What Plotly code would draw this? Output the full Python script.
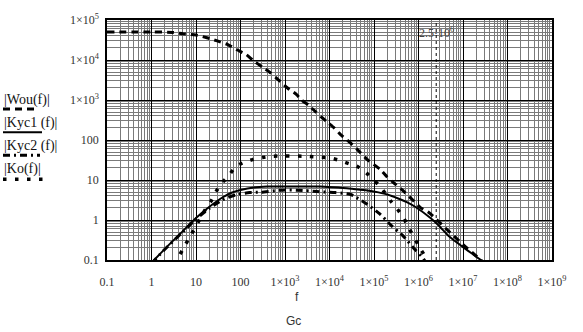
import math
import plotly.graph_objects as go

# ---- data (f in Hz, magnitudes) ----
f_wou = [0.1, 1, 3, 5.2, 10, 17.6, 30, 53, 83, 137, 195, 320, 480, 710, 1140, 1800, 2400,
         3400, 4700, 6400, 9100, 1.3e4, 1.8e4, 2.7e4, 4.1e4, 7.4e4, 1.38e5, 1.95e5, 2.74e5,
         4.23e5, 7.1e5, 1.09e6, 1.68e6, 2.59e6, 4.72e6, 7.93e6, 1.22e7, 1.88e7, 2.52e7, 3.2e7]
wou = [5.0e4, 5.0e4, 4.9e4, 4.5e4, 4.2e4, 3.6e4, 3.0e4, 2.4e4, 1.8e4, 1.35e4, 9.6e3, 6.5e3,
       4.7e3, 3.2e3, 2.0e3, 1.38e3, 980, 740, 527, 383, 275, 196, 134, 92, 60, 31, 18.4, 12.1,
       8.6, 5.75, 3.33, 2.07, 1.56, 1.01, 0.53, 0.31, 0.20, 0.133, 0.1, 0.08]

f_kyc1 = [1, 2, 5, 10, 20, 40, 63, 100, 200, 400, 1000, 3200, 6300, 1.6e4, 3.2e4, 7.1e4,
          1.26e5, 2.0e5, 3.5e5, 5.6e5, 8.9e5, 1.8e6, 2.8e6, 5.0e6, 1.0e7, 2.5e7, 3.2e7]
kyc1 = [0.085, 0.19, 0.52, 1.12, 2.14, 3.7, 4.8, 5.6, 6.5, 6.85, 6.9, 6.9, 6.85, 6.45, 6.0,
        5.5, 4.9, 4.35, 3.45, 2.75, 2.05, 1.15, 0.74, 0.38, 0.21, 0.1, 0.08]

f_kyc2 = [1, 2, 5, 10, 20, 40, 80, 160, 280, 800, 2000, 5200, 1.35e4, 2.9e4, 3.5e4, 6.9e4,
          1.35e5, 2.5e5, 4.6e5, 8.4e5, 1.2e6, 1.35e6, 1.5e6]
kyc2 = [0.082, 0.185, 0.5, 1.05, 1.95, 3.2, 4.3, 4.85, 4.95, 5.55, 5.55, 5.15, 4.85, 4.4, 4.0,
        2.5, 1.42, 0.71, 0.39, 0.18, 0.12, 0.1, 0.085]

f_ko = [4.4, 5.5, 7.4, 16.1, 22, 28.4, 40.2, 55.7, 76, 111, 186, 312, 508, 1000, 3200, 6200,
        1.04e4, 1.74e4, 2.8e4, 4.1e4, 6.7e4, 9.4e4, 1.38e5, 2.39e5, 3.37e5, 4.6e5, 5.96e5,
        1.0e6, 1.34e6, 1.5e6]
ko = [0.14, 0.22, 0.39, 1.8, 3.0, 5.2, 8.9, 13.3, 20.9, 26.7, 32.4, 36.3, 39.2, 39.8, 39.2,
      37.0, 35.6, 30.6, 25.3, 22.2, 15.1, 10.4, 6.9, 2.95, 1.86, 1.13, 0.66, 0.23, 0.133, 0.1]

marker_f = 2.5e6
y_span = [0.1, 1e5]

x_tickvals = [10.0 ** k for k in range(-1, 10)]
x_ticktext = ["0.1", "1", "10", "100"] + ["1×10<sup>%d</sup>" % k for k in range(3, 10)]
y_tickvals = [10.0 ** k for k in range(-1, 6)]
y_ticktext = ["0.1", "1", "10", "100"] + ["1×10<sup>%d</sup>" % k for k in range(3, 6)]

legend_names = ["|Wou(f)|", "|Kyc1 (f)|", "|Kyc2 (f)|", "|Ko(f)|"]

# ---- figure ----
W, H = 583, 332
L, R, T, B = 107, 31, 17, 72
pw, ph = W - L - R, H - T - B


def px(X):
    return (X - L) / pw


def py(Y):
    return (H - B - Y) / ph


styles = [
    dict(color="black", width=3, dash="7px,5px"),
    dict(color="black", width=2),
    dict(color="black", width=3, dash="7px,4px,2px,4px"),
    dict(color="black", width=3.5, dash="3.5px,8.5px"),
]

fig = go.Figure()
for fx, fy, st in zip([f_wou, f_kyc1, f_kyc2, f_ko], [wou, kyc1, kyc2, ko], styles):
    fig.add_trace(go.Scatter(x=fx, y=fy, mode="lines", line=dict(shape="spline", smoothing=0.6, **st),
                             showlegend=False, hoverinfo="skip"))

fig.add_trace(go.Scatter(x=[marker_f, marker_f], y=y_span, mode="lines",
                         line=dict(color="black", width=1, dash="3px,3px"),
                         showlegend=False, hoverinfo="skip"))

minor_x = [m * 10.0 ** k for k in range(-1, 9) for m in range(2, 10)]
minor_y = [m * 10.0 ** k for k in range(-1, 5) for m in range(2, 10)]

tickfont = dict(family="Liberation Serif", size=12, color="#333")
fig.update_xaxes(type="log", range=[-1, 9], tickvals=x_tickvals, ticktext=x_ticktext,
                 showgrid=True, gridcolor="black", gridwidth=1,
                 minor=dict(tickvals=minor_x, showgrid=True, gridcolor="#7a7a7a", gridwidth=1),
                 showline=True, linecolor="black", linewidth=1.5, mirror=True,
                 ticks="", tickfont=tickfont, ticklabelstandoff=10)
fig.update_yaxes(type="log", range=[-1, 5], tickvals=y_tickvals, ticktext=y_ticktext,
                 showgrid=True, gridcolor="black", gridwidth=1,
                 minor=dict(tickvals=minor_y, showgrid=True, gridcolor="#7a7a7a", gridwidth=1),
                 showline=True, linecolor="black", linewidth=1.5, mirror=True,
                 ticks="", tickfont=tickfont, ticklabelstandoff=4)

annotations = []
shapes = []
text_y = [98, 121.7, 144.5, 168.3]
line_y = [107, 130.7, 154, 178.3]
line_x1 = [37, 42, 40, 44]
for name, ty, ly, x1, st in zip(legend_names, text_y, line_y, line_x1, styles):
    annotations.append(dict(text=name, xref="paper", yref="paper", x=px(2), y=py(ty),
                            xanchor="left", yanchor="middle", showarrow=False,
                            font=dict(family="Liberation Serif", size=14, color="#111")))
    shapes.append(dict(type="line", xref="paper", yref="paper", x0=px(3), x1=px(x1),
                       y0=py(ly), y1=py(ly), line=st))

annotations.append(dict(text="2.5·10<sup>6</sup>", xref="x", yref="paper", x=math.log10(marker_f),
                        y=py(30), xanchor="center", yanchor="middle", showarrow=False,
                        font=dict(family="Liberation Serif", size=12, color="#444")))
annotations.append(dict(text="f", xref="paper", yref="paper", x=px(297), y=py(297),
                        xanchor="center", yanchor="middle", showarrow=False,
                        font=dict(family="Liberation Sans", size=12, color="#333")))
annotations.append(dict(text="Gc", xref="paper", yref="paper", x=px(293), y=py(322),
                        xanchor="center", yanchor="middle", showarrow=False,
                        font=dict(family="Liberation Sans", size=12, color="#333")))

fig.update_layout(width=W, height=H, margin=dict(l=L, r=R, t=T, b=B),
                  paper_bgcolor="white", plot_bgcolor="white",
                  annotations=annotations, shapes=shapes, showlegend=False)

fig.write_html("out.html")
